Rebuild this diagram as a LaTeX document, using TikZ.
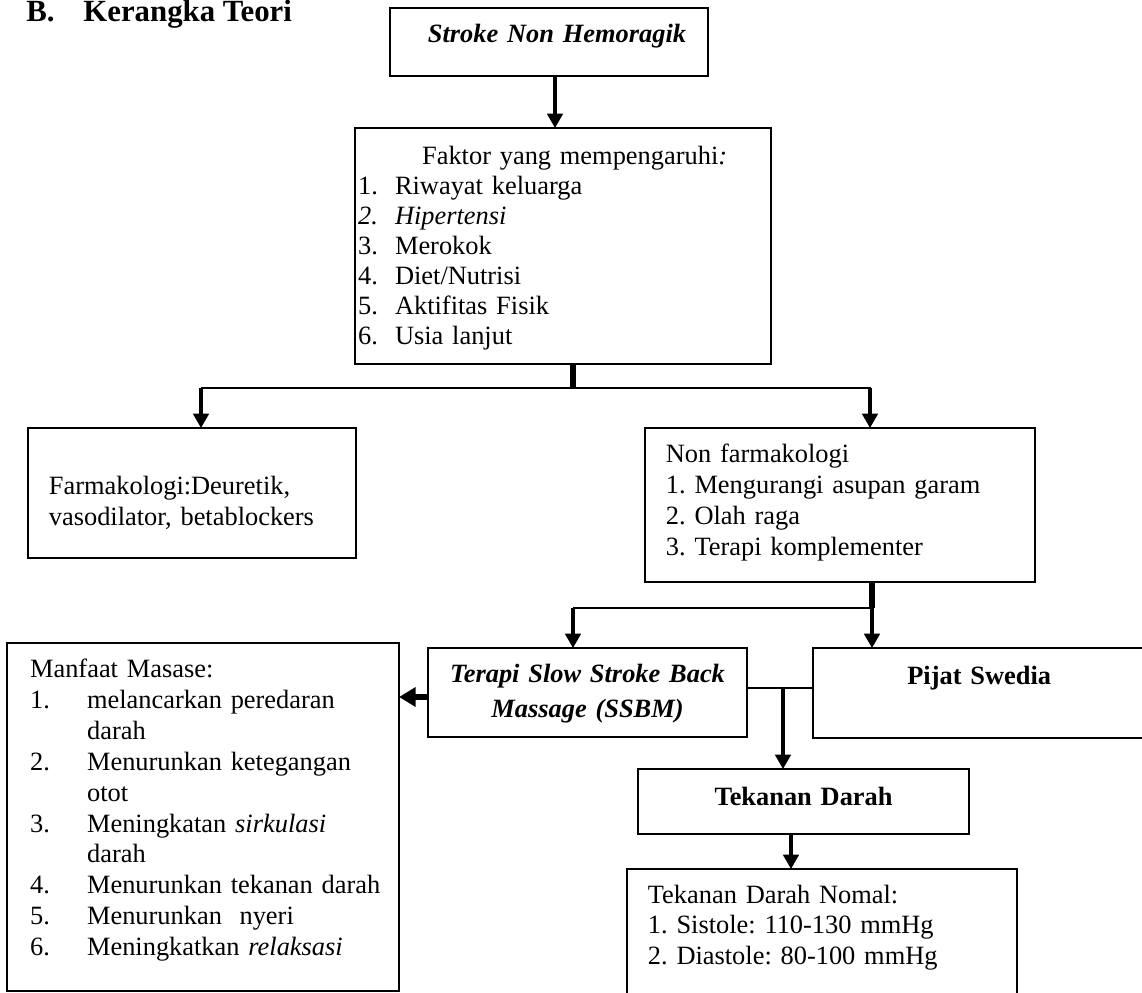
\documentclass[tikz,border=0pt]{standalone}
\usepackage{fontspec}
\setmainfont{Liberation Serif}
\usepackage{tikz}
\usetikzlibrary{arrows.meta}
\tikzset{
  box/.style={draw, line width=0.9pt, anchor=north west, outer sep=0pt, inner ysep=0pt, inner xsep=9.5pt, align=left, font=\fontsize{12}{14}\selectfont},
  ctr/.style={box, align=center, inner xsep=0pt},
  arr/.style={-{Triangle[length=6.5pt,width=7pt]}, line width=1.5pt},
  bigarr/.style={-{Triangle[length=7.5pt,width=8.5pt]}, line width=3pt},
  stub/.style={line width=3pt},
  link/.style={line width=0.9pt}
}
\newcommand{\itm}[1]{\makebox[16.8pt][l]{#1}}
\newcommand{\mitm}[1]{\makebox[25.9pt][l]{#1}}

\begin{document}
\frenchspacing
\begin{tikzpicture}[x=0.4545pt, y=-0.4545pt]
  \useasboundingbox (0,0) rectangle (1142,992);

  \node[anchor=base west, inner sep=0pt, font=\fontsize{14}{16}\selectfont\bfseries] (title) at (26,21) {\makebox[25.9pt][l]{B.}Kerangka Teori};

  % boxes
  \node[ctr, text width=144.5pt, text height=15.9pt, text depth=15pt, font=\fontsize{12}{14}\selectfont\bfseries\itshape] (stroke) at (390,8) {\hspace*{7.3pt}Stroke Non Hemoragik};
  \node[box, inner xsep=1.4pt, text width=186.3pt, text height=16.8pt, text depth=90.5pt, font=\fontsize{12}{13.6}\selectfont] (faktor) at (355,128) {\hspace*{29.1pt}Faktor yang mempengaruhi\textit{:}\\
    \itm{1.}Riwayat keluarga\\
    \textit{\itm{2.}Hipertensi}\\
    \itm{3.}Merokok\\
    \itm{4.}Diet/Nutrisi\\
    \itm{5.}Aktifitas Fisik\\
    \itm{6.}Usia lanjut};
  \node[box, text width=130.1pt, text height=30pt, text depth=29.1pt, font=\fontsize{12}{14.5}\selectfont] (farm) at (28,428) {Farmakologi:Deuretik,\\ vasodilator, betablockers};
  \node[box, text width=158.3pt, text height=15.9pt, text depth=54.1pt] (nonfarm) at (645,428) {Non farmakologi\\
    1. Mengurangi asupan garam\\
    2. Olah raga\\
    3. Terapi komplementer};
  \node[ctr, text width=145pt, text height=15.9pt, text depth=24.6pt, font=\fontsize{12}{15.5}\selectfont\bfseries\itshape] (ssbm) at (428,648) {Terapi Slow Stroke Back\\ Massage (SSBM)};
  \node[ctr, text width=154.1pt, text height=16.8pt, text depth=24.1pt, font=\fontsize{12}{14}\selectfont\bfseries] (pijat) at (813,648) {\hspace*{-3pt}Pijat Swedia};
  \node[box, inner xsep=10.5pt, text width=157.2pt, text height=15.9pt, text depth=142.3pt] (manfaat) at (7,643) {Manfaat Masase:\\
    \mitm{1.}melancarkan peredaran\\
    \hspace*{25.9pt}darah\\
    \mitm{2.}Menurunkan ketegangan\\
    \hspace*{25.9pt}otot\\
    \mitm{3.}Meningkatan \textit{sirkulasi}\\
    \hspace*{25.9pt}darah\\
    \mitm{4.}\mbox{Menurunkan tekanan darah}\\
    \mitm{5.}Menurunkan\ \ nyeri\\
    \mitm{6.}Meningkatkan \textit{relaksasi}};
  \node[ctr, text width=150.5pt, text height=16.4pt, text depth=13.1pt, font=\fontsize{12}{14}\selectfont\bfseries] (tekanan) at (638,769) {Tekanan Darah};
  \node[box, text width=158.3pt, text height=15.5pt, text depth=44pt] (normal) at (627,869) {Tekanan Darah Nomal:\\
    1. Sistole: 110-130 mmHg\\
    2. Diastole: 80-100 mmHg};

  % junctions and guides
  \coordinate (g1) at (555,0);
  \coordinate (j1) at (573,388);
  \coordinate (j1l) at (201,388);
  \coordinate (j1r) at (870,388);
  \coordinate (j2) at (872,608);
  \coordinate (j2l) at (573,608);
  \coordinate (j3) at (783,688);
  \coordinate (g2) at (791,0);
  \coordinate (g3) at (0,697);

  % connectors
  \draw[arr] (stroke.south -| g1) -- (faktor.north -| g1);
  \draw[stub] (faktor.south -| j1) -- (j1);
  \draw[link] (j1l) -- ([xshift=0.5pt]j1r);
  \draw[arr] (j1l) -- (farm.north -| j1l);
  \draw[arr] (j1r) -- (nonfarm.north -| j1r);
  \draw[stub] (nonfarm.south -| j2) -- (j2);
  \draw[link] (j2l) -- (j2);
  \draw[arr] (j2l) -- (ssbm.north -| j2l);
  \draw[arr] (j2) -- (pijat.north -| j2);
  \draw[link] (ssbm.east |- j3) -- (pijat.west |- j3);
  \draw[arr] (j3) -- (tekanan.north -| j3);
  \draw[arr] (tekanan.south -| g2) -- (normal.north -| g2);
  \draw[bigarr] (ssbm.west |- g3) -- (manfaat.east |- g3);
\end{tikzpicture}
\end{document}
